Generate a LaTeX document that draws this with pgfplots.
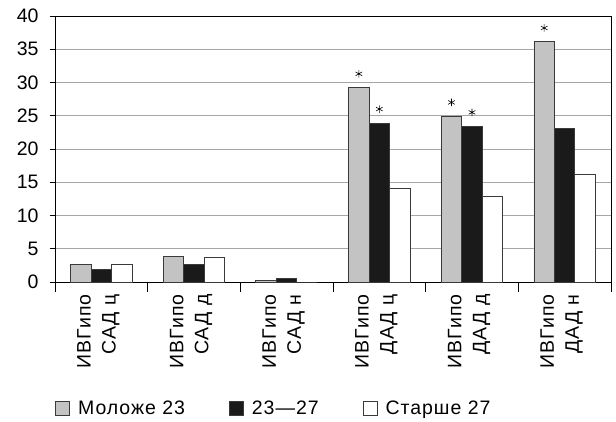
\documentclass[border=0pt]{standalone}
\usepackage{fontspec}
\setmainfont{Liberation Sans}
\newfontfamily\lbl{Liberation Sans}[LetterSpace=5]
\usepackage{pgfplots}
\pgfplotsset{compat=1.18}
\definecolor{bargray}{HTML}{C3C3C3}
\definecolor{barblack}{HTML}{1A1A1A}
\definecolor{edge}{HTML}{3A3A3A}
\definecolor{gridc}{HTML}{A6A6A6}
\begin{document}
\begin{tikzpicture}
\path[use as bounding box] (-55pt,-139pt) rectangle (561pt,282pt);
\begin{axis}[
  at={(0pt,0pt)}, anchor=south west,
  scale only axis, width=556pt, height=266pt,
  xmin=-0.5, xmax=5.5, ymin=0, ymax=40,
  ytick={0,5,...,40},
  ymajorgrids, grid style={gridc, line width=0.9pt},
  axis line style={black, line width=0.9pt},
  major tick length=5pt, tick align=outside, tick pos=left,
  tick style={black, line width=0.9pt},
  xtick={0,1,2,3,4,5},
  xticklabels={{ИВГипо\\САД ц},{ИВГипо\\САД д},{ИВГипо\\САД н},{ИВГипо\\ДАД ц},{ИВГипо\\ДАД д},{ИВГипо\\ДАД н}},
  xticklabel style={rotate=90, anchor=east, align=right, font=\lbl\fontsize{19.5pt}{25pt}\selectfont, xshift=-4pt, yshift=3pt},
  xtick style={draw=none},
  extra x ticks={-0.5,0.5,1.5,2.5,3.5,4.5,5.5},
  extra x tick labels={},
  extra x tick style={grid=none, major tick length=10pt, xtick style={draw=black, line width=0.9pt}},
  yticklabel style={font=\fontsize{19.5pt}{23pt}\selectfont, xshift=-8pt},
  /pgf/number format/assume math mode=true,
  legend style={at={(0,-0.474)}, anchor=west, draw=none, fill=none,
    inner sep=0pt, font=\lbl\fontsize{19.5pt}{23pt}\selectfont,
    /tikz/every odd column/.append style={column sep=6pt},
    /tikz/every even column/.append style={column sep=42pt}},
  legend columns=3,
  legend image code/.code={\draw[#1, draw=edge, line width=0.9pt] (0pt,-7pt) rectangle (14pt,7pt);},
]
\addplot[ybar, bar width=0.221, bar shift=-0.221, fill=bargray, draw=edge, line width=0.9pt]
  coordinates {(0,2.6) (1,3.9) (2,0.25) (3,29.2) (4,24.9) (5,36.1)};
\addlegendentry{Моложе 23}
\addplot[ybar, bar width=0.221, bar shift=0, fill=barblack, draw=edge, line width=0.9pt]
  coordinates {(0,1.9) (1,2.65) (2,0.5) (3,23.9) (4,23.4) (5,23.1)};
\addlegendentry{23—27}
\addplot[ybar, bar width=0.221, bar shift=0.221, fill=white, draw=edge, line width=0.9pt]
  coordinates {(0,2.6) (1,3.65) (2,0) (3,14.0) (4,12.9) (5,16.2)};
\addlegendentry{Старше 27}
\addplot[only marks, mark=asterisk, mark size=3.8pt, black, line width=0.6pt, forget plot,
  every mark/.append style={yshift=14pt}]
  coordinates {(2.779,29.2) (3,23.9) (3.779,24.9) (4,23.4) (4.779,36.1)};
\end{axis}
\end{tikzpicture}
\end{document}
